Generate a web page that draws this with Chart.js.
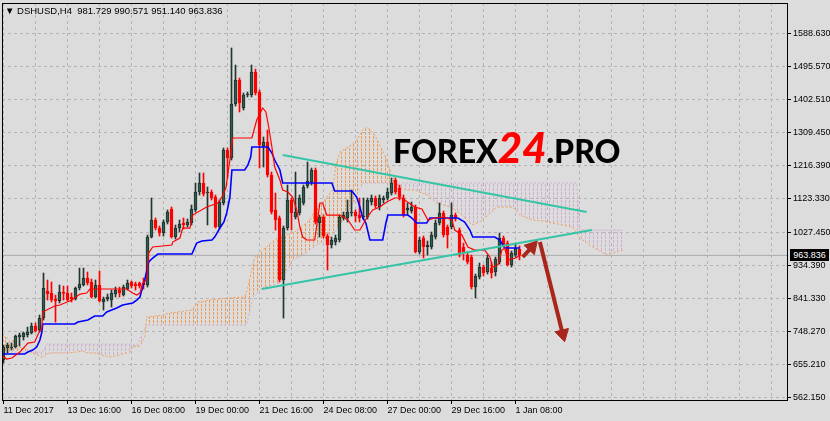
<!DOCTYPE html>
<html>
<head>
<meta charset="utf-8">
<script src="https://cdn.jsdelivr.net/npm/chart.js@4.4.1/dist/chart.umd.min.js"></script>
<style>
  html, body { margin: 0; padding: 0; background: #dcdcdc; }
  #wrap { position: relative; width: 830px; height: 421px; overflow: hidden; background: #dcdcdc; }
  #chart { position: absolute; left: 0; top: 0; }
  #head { position: absolute; left: 5px; top: 5px; font: 9.5px "Liberation Sans", Arial, sans-serif; line-height: 11px; color: #000; white-space: pre; }
  #logo { position: absolute; left: 393px; top: 126px; display: flex; align-items: baseline; font-family: Lato, "Noto Sans", sans-serif; font-weight: 900; white-space: nowrap; line-height: 1; }
  #logo .b { font-size: 32px; color: #000; }
  #logo .r { font-size: 42px; color: #ff0000; font-style: italic; }
  #tag { position: absolute; left: 790px; top: 250px; width: 39px; height: 12px; background: #000; color: #fff; font: 9px "Liberation Sans", Arial, sans-serif; line-height: 12px; text-align: center; }
</style>
</head>
<body>
<div id="wrap">
  <canvas id="chart" width="830" height="421"></canvas>
  <div id="head">▼ DSHUSD,H4  981.729 990.571 951.140 963.836</div>
  <div id="logo"><span class="b">FOREX</span><span class="r">24</span><span class="b">.PRO</span></div>
  <div id="tag">963.836</div>
</div>
<script>
// H4 candles, one every 4 hours from 11 Dec 2017 00:00
const openP = [668.5, 702.3, 702.3, 705.2, 733.4, 733.4, 739.0, 744.7, 764.4, 753.1,
  787.0, 863.2, 857.6, 840.6, 835.0, 860.4, 857.6, 846.3, 840.6, 871.7,
  880.2, 899.9, 888.6, 846.3, 880.2, 832.2, 840.6, 837.8, 854.7, 866.0,
  851.9, 868.9, 888.6, 883.0, 885.8, 885.8, 880.2, 1015.6, 1063.6, 1041.0,
  1026.9, 1058.0, 1094.7, 1015.6, 1041.0, 1055.2, 1049.5, 1055.2, 1091.9, 1142.7,
  1168.1, 1139.8, 1142.7, 1128.5, 1043.9, 1111.6, 1261.2, 1238.6, 1391.0, 1458.8,
  1379.8, 1416.5, 1416.5, 1481.4, 1424.9, 1272.5, 1283.8, 1190.6, 1091.9, 1069.3,
  894.3, 1041.0, 1120.1, 1072.1, 1083.4, 1111.6, 1159.6, 1170.9, 1204.8, 1055.2,
  1072.1, 1018.5, 993.1, 1001.5, 1007.2, 1069.3, 1069.3, 1083.4, 1086.2, 1077.7,
  1072.1, 1072.1, 1114.4, 1125.7, 1100.3, 1120.1, 1125.7, 1139.8, 1176.5, 1154.0,
  1125.7, 1091.9, 1089.0, 1100.3, 973.3, 1012.8, 987.4, 987.4, 1015.6, 1055.2,
  1083.4, 1043.9, 1043.9, 1077.7, 1035.4, 987.4, 964.8, 959.2, 874.5, 902.7,
  931.0, 916.9, 928.1, 916.9, 945.1, 1012.8, 998.7, 936.6, 964.8, 981.729];
const highP = [710.8, 716.4, 716.4, 739.0, 744.7, 747.5, 761.6, 772.9, 772.9, 795.5,
  914.0, 894.3, 888.6, 851.9, 880.2, 877.3, 877.3, 857.6, 874.5, 928.1,
  928.1, 916.9, 897.1, 894.3, 919.7, 846.3, 854.7, 866.0, 874.5, 874.5,
  880.2, 894.3, 891.4, 888.6, 888.6, 899.9, 1021.3, 1125.7, 1069.3, 1046.7,
  1063.6, 1091.9, 1100.3, 1049.5, 1063.6, 1069.3, 1066.5, 1106.0, 1168.1, 1196.3,
  1196.3, 1156.8, 1148.3, 1134.2, 1120.1, 1266.9, 1266.9, 1549.1, 1501.1, 1464.4,
  1422.1, 1424.9, 1501.1, 1489.8, 1430.6, 1297.9, 1317.7, 1199.1, 1139.8, 1074.9,
  1046.7, 1162.4, 1125.7, 1199.1, 1134.2, 1162.4, 1227.3, 1210.4, 1210.4, 1077.7,
  1077.7, 1024.1, 1015.6, 1021.3, 1077.7, 1086.2, 1120.1, 1148.3, 1091.9, 1125.7,
  1125.7, 1125.7, 1134.2, 1131.4, 1134.2, 1131.4, 1154.0, 1182.2, 1182.2, 1162.4,
  1134.2, 1111.6, 1114.4, 1106.0, 1015.6, 1018.5, 1004.4, 1029.8, 1063.6, 1111.6,
  1089.0, 1049.5, 1111.6, 1083.4, 1041.0, 998.7, 973.3, 964.8, 911.2, 942.3,
  936.6, 964.8, 945.1, 959.2, 1026.9, 1018.5, 1004.4, 976.1, 998.7, 990.571];
const lowP = [660.0, 688.2, 696.7, 702.3, 708.0, 724.9, 733.4, 741.9, 747.5, 747.5,
  781.4, 837.8, 832.2, 775.7, 829.4, 837.8, 835.0, 832.2, 837.8, 866.0,
  877.3, 880.2, 843.5, 843.5, 832.2, 809.6, 835.0, 818.1, 846.3, 846.3,
  849.1, 866.0, 871.7, 866.0, 871.7, 868.9, 874.5, 1012.8, 1035.4, 1018.5,
  1018.5, 1052.3, 1012.8, 1010.0, 1029.8, 1038.2, 1043.9, 1049.5, 1086.2, 1134.2,
  1131.4, 1049.5, 1120.1, 1041.0, 1038.2, 1106.0, 1182.2, 1233.0, 1385.4, 1368.5,
  1374.1, 1410.8, 1410.8, 1416.5, 1210.4, 1213.2, 1185.0, 1080.6, 1035.4, 888.6,
  787.0, 1035.4, 1035.4, 1066.5, 1077.7, 1106.0, 1154.0, 1162.4, 1052.3, 1015.6,
  1012.8, 922.5, 984.6, 993.1, 1001.5, 1063.6, 1058.0, 1074.9, 1058.0, 1058.0,
  1066.5, 1066.5, 1106.0, 1097.5, 1091.9, 1111.6, 1120.1, 1134.2, 1137.0, 1120.1,
  1072.1, 1077.7, 1083.4, 970.5, 967.7, 956.4, 964.8, 981.8, 1010.0, 1049.5,
  1015.6, 984.6, 1038.2, 1060.8, 959.2, 950.7, 939.4, 868.9, 843.5, 897.1,
  905.6, 911.2, 899.9, 905.6, 939.4, 987.4, 933.8, 931.0, 959.2, 951.14];
const closeP = [705.2, 710.8, 705.2, 736.2, 739.0, 744.7, 747.5, 764.4, 750.3, 787.0,
  871.7, 854.7, 837.8, 835.0, 860.4, 856.2, 837.8, 840.6, 871.7, 883.0,
  899.9, 885.8, 846.3, 880.2, 835.0, 840.6, 846.3, 857.6, 866.0, 857.6,
  874.5, 885.8, 877.3, 877.3, 877.3, 880.2, 1015.6, 1063.6, 1041.0, 1026.9,
  1058.0, 1086.2, 1015.6, 1041.0, 1052.3, 1049.5, 1058.0, 1094.7, 1142.7, 1168.1,
  1137.0, 1142.7, 1125.7, 1043.9, 1114.4, 1261.2, 1238.6, 1391.0, 1458.8, 1393.9,
  1416.5, 1419.3, 1481.4, 1422.1, 1275.3, 1283.8, 1190.6, 1086.2, 1063.6, 894.3,
  1041.0, 1120.1, 1083.4, 1086.2, 1125.7, 1156.8, 1173.7, 1204.8, 1058.0, 1072.1,
  1018.5, 993.1, 1007.2, 1012.8, 1072.1, 1077.7, 1086.2, 1086.2, 1074.9, 1069.3,
  1074.9, 1120.1, 1125.7, 1103.1, 1125.7, 1125.7, 1142.7, 1168.1, 1142.7, 1128.5,
  1077.7, 1097.5, 1100.3, 973.3, 1007.2, 987.4, 993.1, 1021.3, 1055.2, 1083.4,
  1021.3, 1021.3, 1077.7, 1069.3, 964.8, 970.5, 945.1, 874.5, 905.6, 931.0,
  914.0, 956.4, 914.0, 953.5, 1012.8, 993.1, 936.6, 970.5, 984.6, 963.836];
const lastClose = closeP[closeP.length - 1];

// indicator lines, [bar index, price] at each bend
const tenkan = [[-0.2, 679.8], [0.8, 671.3], [2.1, 674.1], [4.1, 691.0], [6.1, 716.4], [7.8, 719.3],
  [8.8, 744.7], [9.6, 758.8], [9.8, 803.9], [10.8, 809.6], [12.8, 820.9], [14.1, 823.7],
  [17.1, 837.8], [17.8, 843.5], [19.1, 854.7], [20.8, 857.6], [21.6, 868.9], [30.8, 868.9],
  [32.3, 857.6], [33.3, 851.9], [34.1, 857.6], [34.8, 885.8], [35.8, 894.3], [36.3, 970.5],
  [37.3, 987.4], [42.1, 993.1], [42.3, 1001.5], [44.1, 1012.8], [44.8, 1041.0], [46.6, 1041.0],
  [47.3, 1077.7], [50.8, 1100.3], [53.6, 1111.6], [54.6, 1128.5], [55.6, 1154.0], [56.6, 1233.0],
  [57.3, 1295.1], [62.1, 1295.1], [63.3, 1345.9], [64.8, 1379.8], [65.6, 1368.5], [66.3, 1326.1],
  [67.1, 1269.7], [67.8, 1213.2], [69.1, 1176.5], [69.8, 1148.3], [71.1, 1142.7], [72.3, 1128.5],
  [73.3, 1091.9], [74.1, 1043.9], [74.8, 1015.6], [75.8, 1007.2], [77.8, 1007.2], [79.1, 1111.6],
  [79.8, 1111.6], [80.8, 1077.7], [84.1, 1077.7], [86.1, 1063.6], [87.8, 1035.4], [89.1, 1035.4],
  [90.8, 1069.3], [92.3, 1091.9], [94.1, 1100.3], [95.8, 1114.4], [97.8, 1125.7], [99.6, 1125.7],
  [102.8, 1100.3], [104.6, 1094.7], [106.1, 1063.6], [107.8, 1069.3], [110.3, 1072.1], [112.1, 1063.6],
  [112.8, 1035.4], [114.6, 1021.3], [116.1, 987.4], [117.8, 978.9], [120.3, 978.9], [121.6, 959.2],
  [122.3, 931.0], [123.6, 936.6], [124.6, 978.9], [125.3, 984.6], [126.1, 950.7], [128.1, 956.4],
  [129.1, 964.8]];
const kijun = [[-0.2, 685.4], [5.3, 685.4], [6.1, 691.0], [7.3, 696.7], [8.3, 705.2], [9.1, 724.9],
  [9.6, 747.5], [9.8, 770.1], [17.8, 770.1], [18.6, 775.7], [21.1, 781.4], [22.8, 792.7],
  [24.8, 792.7], [25.8, 803.9], [28.3, 815.2], [29.8, 823.7], [32.3, 829.4], [33.3, 837.8],
  [34.1, 846.3], [35.3, 894.3], [36.3, 945.1], [37.3, 956.4], [38.6, 967.7], [47.1, 967.7],
  [48.3, 998.7], [49.6, 1004.4], [52.1, 1007.2], [52.8, 1015.6], [54.1, 1041.0], [55.1, 1058.0],
  [55.8, 1083.4], [56.6, 1128.5], [57.1, 1204.8], [60.3, 1204.8], [61.1, 1218.9], [61.8, 1241.5],
  [62.1, 1269.7], [66.1, 1269.7], [67.1, 1252.7], [67.8, 1233.0], [69.1, 1204.8], [69.8, 1168.1],
  [82.1, 1168.1], [82.8, 1145.5], [87.1, 1145.5], [88.3, 1128.5], [89.1, 1100.3], [89.8, 1069.3],
  [90.6, 1055.2], [91.6, 1007.2], [94.8, 1007.2], [95.6, 1055.2], [96.1, 1077.7], [101.1, 1077.7],
  [102.1, 1069.3], [103.3, 1055.2], [105.8, 1055.2], [106.6, 1069.3], [113.6, 1069.3], [115.3, 1058.0],
  [116.6, 1035.4], [117.3, 1015.6], [122.8, 1015.6], [124.1, 1007.2], [125.3, 984.6], [129.1, 984.6]];
const spanA = [[-0.2, 733.4], [0.8, 733.4], [1.6, 719.3], [2.8, 724.9], [3.6, 705.2], [5.3, 702.3],
  [7.3, 688.2], [9.1, 679.8], [9.8, 674.1], [10.8, 685.4], [12.1, 688.2], [15.8, 688.2],
  [18.3, 691.0], [19.6, 693.9], [21.1, 688.2], [22.8, 688.2], [24.6, 682.6], [26.6, 676.9],
  [28.3, 679.8], [29.8, 685.4], [31.6, 691.0], [32.3, 705.2], [34.1, 708.0], [35.3, 733.4],
  [35.8, 789.8], [39.8, 795.5], [41.6, 801.1], [47.1, 809.6], [48.6, 832.2], [51.6, 837.8],
  [55.8, 843.5], [60.3, 846.3], [61.1, 874.5], [62.8, 959.2], [64.8, 978.9], [67.8, 1007.2],
  [70.3, 1021.3], [72.8, 1029.8], [74.1, 1041.0], [76.6, 1063.6], [78.3, 1100.3], [80.3, 1120.1],
  [82.3, 1148.3], [83.1, 1218.9], [84.1, 1255.6], [86.6, 1272.5], [88.3, 1289.4], [89.8, 1317.7],
  [91.1, 1326.1], [92.8, 1303.5], [95.3, 1247.1], [97.1, 1190.6], [98.6, 1162.4], [100.3, 1148.3],
  [102.8, 1148.3], [104.6, 1139.8], [106.1, 1134.2], [108.3, 1111.6], [111.6, 1100.3], [114.1, 1083.4],
  [117.1, 1049.5], [119.1, 1058.0], [121.1, 1077.7], [123.3, 1100.3], [127.3, 1100.3], [129.1, 1077.7],
  [132.3, 1063.6], [134.8, 1060.8], [142.3, 1043.9], [144.1, 1012.8], [147.3, 987.4], [150.8, 964.8],
  [152.3, 970.5], [154.8, 978.9]];
const spanB = [[-0.2, 691.0], [9.8, 691.0], [10.8, 713.6], [32.3, 713.6], [33.3, 708.0], [35.8, 767.3],
  [60.8, 767.3], [62.3, 846.3], [64.8, 871.7], [69.1, 885.8], [72.3, 950.7], [74.8, 964.8],
  [78.3, 993.1], [80.8, 1007.2], [83.3, 1035.4], [85.8, 1077.7], [87.8, 1120.1], [89.8, 1168.1],
  [143.3, 1168.1], [144.1, 1035.4], [154.8, 1035.4]];

// hand-drawn objects
const trendUpper = [[69.8, 1247.1], [145.8, 1086.2]];
const trendLower = [[64.6, 868.9], [147.1, 1035.4]];
const arrowUp = [[129.8, 959.2], [132.1, 987.4]];
const arrowDown = [[134.1, 1001.5], [139.8, 741.9]];

const yTicks = [562.15, 655.21, 748.27, 841.33, 934.39, 1027.45, 1123.33, 1216.39, 1309.45, 1402.51, 1495.57, 1588.63];
const xTickLabels = ['11 Dec 2017', '13 Dec 16:00', '16 Dec 08:00', '19 Dec 00:00', '21 Dec 16:00',
  '24 Dec 08:00', '27 Dec 00:00', '29 Dec 16:00', '1 Jan 08:00'];
const gridEvery = 8;

const pts = (arr) => arr.map(([x, y]) => ({ x, y }));
const idx = openP.map((_, i) => i);
const isBull = idx.map((i) => closeP[i] >= openP[i]);

function hatch(color) {
  const c = document.createElement('canvas');
  c.width = 4;
  c.height = 4;
  const g = c.getContext('2d');
  g.fillStyle = color;
  g.fillRect(1, 0, 1, 3);
  return g.createPattern(c, 'repeat');
}

function noPad(s) {
  s.paddingLeft = 0;
  s.paddingRight = 0;
  s.paddingTop = 0;
  s.paddingBottom = 0;
}

const frame = {
  id: 'frame',
  afterDraw(chart) {
    const { ctx, chartArea: a } = chart;
    ctx.save();
    ctx.strokeStyle = '#000';
    ctx.lineWidth = 1;
    ctx.strokeRect(a.left + 0.5, a.top + 0.5, a.right - a.left, a.bottom - a.top);
    ctx.restore();
    const y = chart.scales.y.getPixelForValue(lastClose);
    document.getElementById('tag').style.top = (Math.round(y) - 6) + 'px';
  },
};

const tickFont = { family: '"Liberation Sans", Arial, sans-serif', size: 9 };
const gridIdx = [];
for (let v = 0; v <= 192; v += gridEvery) gridIdx.push(v);

new Chart(document.getElementById('chart'), {
  type: 'bar',
  data: {
    datasets: [
      {
        type: 'line', label: 'Senkou A', data: pts(spanA),
        borderColor: '#f0a060', borderWidth: 1, borderDash: [2, 2],
        pointRadius: 0, fill: false, order: 10,
      },
      {
        type: 'line', label: 'Senkou B', data: pts(spanB),
        borderColor: '#d0b2d0', borderWidth: 1, borderDash: [2, 2], pointRadius: 0,
        fill: { target: 0, above: hatch('#cfb0cf'), below: hatch('#ee9c58') }, order: 10,
      },
      {
        type: 'line', label: 'Bid', data: [{ x: -0.375, y: lastClose }, { x: 195.875, y: lastClose }],
        borderColor: '#ababab', borderWidth: 1, pointRadius: 0, order: 9,
      },
      {
        type: 'bar', label: 'wick', data: idx.map((i) => ({ x: i, y: [lowP[i], highP[i]] })),
        backgroundColor: idx.map((i) => (isBull[i] ? '#22352e' : '#ff0000')),
        borderWidth: 0, grouped: false, barPercentage: 1, categoryPercentage: 1,
        maxBarThickness: 1, order: 8,
      },
      {
        type: 'bar', label: 'body', data: idx.map((i) => ({ x: i, y: [openP[i], closeP[i]] })),
        backgroundColor: idx.map((i) => (isBull[i] ? '#2f5e50' : '#ff0000')),
        borderColor: idx.map((i) => (isBull[i] ? '#1f2e29' : '#ff0000')),
        borderWidth: 1, borderSkipped: false, minBarLength: 1, grouped: false,
        barPercentage: 1, categoryPercentage: 1, maxBarThickness: 3, order: 7,
      },
      {
        type: 'line', label: 'Kijun', data: pts(kijun),
        borderColor: '#0000ff', borderWidth: 1.6, pointRadius: 0, order: 6,
      },
      {
        type: 'line', label: 'Tenkan', data: pts(tenkan),
        borderColor: '#ff0000', borderWidth: 1.2, pointRadius: 0, order: 5,
      },
      {
        type: 'line', label: 'upper', data: pts(trendUpper),
        borderColor: '#35c5a6', borderWidth: 2, pointRadius: 0, order: 4,
      },
      {
        type: 'line', label: 'lower', data: pts(trendLower),
        borderColor: '#35c5a6', borderWidth: 2, pointRadius: 0, order: 4,
      },
      {
        type: 'line', label: 'arrow up', data: pts(arrowUp),
        borderColor: '#a8261c', borderWidth: 4, pointStyle: 'triangle',
        pointRadius: [0, 8], pointRotation: [0, 42], pointBackgroundColor: '#a8261c',
        pointBorderColor: '#a8261c', pointBorderWidth: 1, order: 3,
      },
      {
        type: 'line', label: 'arrow down', data: pts(arrowDown),
        borderColor: '#a8261c', borderWidth: 4, pointStyle: 'triangle',
        pointRadius: [0, 8], pointRotation: [0, 166], pointBackgroundColor: '#a8261c',
        pointBorderColor: '#a8261c', pointBorderWidth: 1, order: 3,
      },
    ],
  },
  options: {
    responsive: false,
    animation: false,
    events: [],
    layout: { autoPadding: false, padding: { left: 2, top: 3, right: 0, bottom: 0 } },
    plugins: { legend: { display: false }, tooltip: { enabled: false } },
    scales: {
      x: {
        type: 'linear', min: -0.375, max: 195.875, bounds: 'data', offset: false,
        afterBuildTicks: (s) => { s.ticks = gridIdx.map((v) => ({ value: v })); },
        afterFit: (s) => { s.height = 21; noPad(s); },
        grid: {
          offset: false, color: '#b4b4b4', lineWidth: 1, tickLength: 4,
          tickColor: (c) => (c.index % 2 === 0 && xTickLabels[c.index / 2] ? '#000' : 'rgba(0,0,0,0)'),
        },
        border: { display: true, color: '#000', width: 1, dash: [3, 3] },
        ticks: {
          autoSkip: false, maxRotation: 0, align: 'start', padding: 1, color: '#000', font: tickFont,
          callback: (v, i) => (i % 2 === 0 ? (xTickLabels[i / 2] || '') : ''),
        },
      },
      y: {
        position: 'right', min: 555.66, max: 1676.1, bounds: 'data',
        afterBuildTicks: (s) => { s.ticks = yTicks.map((v) => ({ value: v })); },
        afterFit: (s) => { s.width = 43; noPad(s); },
        grid: { color: '#b4b4b4', lineWidth: 1, tickLength: 4, tickColor: '#000' },
        border: { display: true, color: '#000', width: 1, dash: [3, 3] },
        ticks: { padding: 2, color: '#000', font: tickFont, callback: (v) => Number(v).toFixed(3) },
      },
    },
  },
  plugins: [frame],
});
</script>
</body>
</html>
